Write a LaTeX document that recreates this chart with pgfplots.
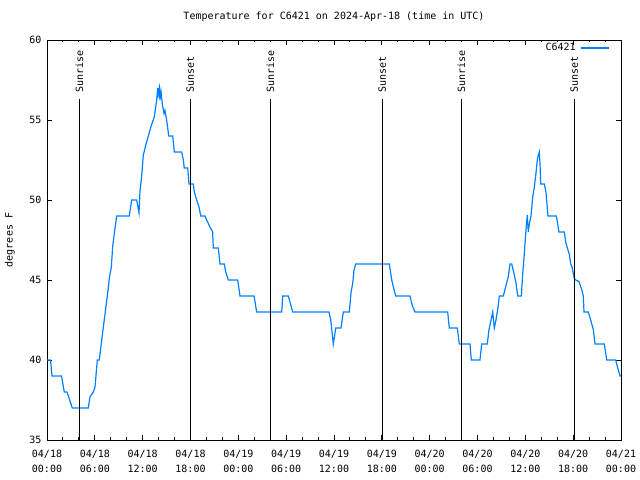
\documentclass[border=0pt]{standalone}
\usepackage{pgfplots}
\pgfplotsset{compat=1.18}
\usepackage{fontspec}
\setmainfont{DejaVu Sans Mono}
\definecolor{gpblue}{RGB}{0,128,255}
\begin{document}
\begin{tikzpicture}
\path[use as bounding box] (0,0) rectangle (640bp,480bp);
\begin{axis}[
  at={(47bp,40bp)}, anchor=south west,
  scale only axis, width=574bp, height=400bp,
  xmin=0, xmax=72, ymin=35, ymax=60,
  font=\fontsize{10bp}{15bp}\selectfont,
  /pgf/number format/assume math mode=true,
  axis line style={line width=0.9bp},
  xtick={0,6,...,72},
  xticklabels={{04/18\\00:00},{04/18\\06:00},{04/18\\12:00},{04/18\\18:00},{04/19\\00:00},{04/19\\06:00},{04/19\\12:00},{04/19\\18:00},{04/20\\00:00},{04/20\\06:00},{04/20\\12:00},{04/20\\18:00},{04/21\\00:00}},
  xticklabel style={align=center, yshift=-7bp},
  yticklabel style={xshift=-2bp},
  minor xtick={2,4,8,10,14,16,20,22,26,28,32,34,38,40,44,46,50,52,56,58,62,64,68,70},
  ytick={35,40,...,60},
  tick align=inside,
  major tick length=5bp, minor tick length=2.5bp,
  every tick/.style={black, line width=0.9bp},
  ylabel={degrees F},
  ylabel style={at={(axis description cs:-0.0645,0.5)}, anchor=center},
  title={Temperature for C6421 on 2024-Apr-18 (time in UTC)},
  title style={at={(rel axis cs:0.5,1)}, anchor=base, yshift=15bp},
  legend style={at={(rel axis cs:0.981,0.98)}, anchor=east, draw=none, fill=none, inner sep=0pt, legend plot pos=right, column sep=4bp, nodes={inner sep=1bp}},
  legend image code/.code={\draw[#1] (0bp,0bp) -- (28bp,0bp);},
]
\addplot[gpblue, line width=1.2bp] coordinates {
(0,40) (0.44,40) (0.63,39) (1.82,39) (2.17,38) (2.51,38) (3.17,37) (5.18,37)
(5.39,37.7) (5.81,38) (6.02,38.3) (6.31,40) (6.56,40) (6.99,41.75) (7.31,43)
(7.69,44.5) (7.81,45.1) (8.07,45.8) (8.24,47.1) (8.44,47.9) (8.74,49) (10.32,49)
(10.62,50) (11.25,50) (11.54,49.2) (11.67,50.6) (11.88,51.5) (12.08,52.8)
(12.42,53.5) (12.71,54) (13.05,54.6) (13.46,55.2) (13.76,56.25) (13.89,57)
(13.96,56.6) (14.09,57) (14.17,56.25) (14.30,56.8) (14.46,56) (14.68,55.4)
(14.80,55.6) (15.01,55) (15.27,54) (15.77,54) (15.97,53) (16.90,53) (17.10,52.5)
(17.22,52) (17.65,52) (17.81,51) (18.35,51) (18.48,50.5) (18.78,50) (19.10,49.5)
(19.28,49) (19.82,49) (20.03,48.75) (20.45,48.3) (20.78,48) (20.86,47) (21.49,47)
(21.70,46) (22.24,46) (22.42,45.5) (22.74,45) (23.92,45) (24.21,44) (25.97,44)
(26.30,43) (29.44,43) (29.57,44) (30.27,44) (30.82,43) (35.37,43) (35.59,42.5)
(35.79,41.6) (35.91,41) (36.04,41.4) (36.21,42) (36.88,42) (37.17,43) (37.92,43)
(38.13,44.2) (38.35,44.8) (38.51,45.6) (38.72,46) (42.94,46) (43.24,45)
(43.53,44.4) (43.74,44) (45.53,44) (45.82,43.4) (46.16,43) (50.26,43) (50.46,42)
(51.47,42) (51.72,41) (53.06,41) (53.22,40) (54.31,40) (54.53,41) (55.23,41)
(55.44,41.9) (55.66,42.4) (55.91,43) (56.11,42) (56.32,42.5) (56.57,43.3)
(56.74,44) (57.24,44) (57.54,44.6) (57.86,45.2) (58.08,46) (58.29,46) (58.58,45.4)
(58.83,44.8) (59.04,44) (59.50,44) (59.67,45.4) (59.83,46.35) (60.05,47.9)
(60.17,48.65) (60.25,49.06) (60.37,48) (60.50,48.5) (60.71,49) (60.93,50.2)
(61.13,50.8) (61.34,51.7) (61.50,52.5) (61.63,52.8) (61.75,53) (61.84,52.3)
(61.93,51) (62.38,51) (62.59,50.5) (62.84,49) (63.89,49) (64.06,48.5) (64.22,48)
(64.89,48) (65.10,47.3) (65.27,47) (65.52,46.6) (65.69,46) (65.86,45.8)
(66.14,45.1) (66.32,45) (66.73,44.9) (67.07,44.4) (67.27,44) (67.36,43) (67.90,43)
(68.20,42.5) (68.53,41.9) (68.74,41) (69.91,41) (70.21,40) (71.34,40) (71.59,39.5)
(71.88,39) (72,39)
};
\addlegendentry{C6421}
\addplot[black, line width=1.2bp, forget plot] coordinates {(4.05,35) (4.05,56.31)};
\addplot[black, line width=1.2bp, forget plot] coordinates {(17.98,35) (17.98,56.31)};
\addplot[black, line width=1.2bp, forget plot] coordinates {(28.01,35) (28.01,56.31)};
\addplot[black, line width=1.2bp, forget plot] coordinates {(42.06,35) (42.06,56.31)};
\addplot[black, line width=1.2bp, forget plot] coordinates {(51.97,35) (51.97,56.31)};
\addplot[black, line width=1.2bp, forget plot] coordinates {(66.14,35) (66.14,56.31)};
\node[rotate=90, anchor=west, inner sep=0pt] at (axis cs:4.05,56.69) {Sunrise};
\node[rotate=90, anchor=west, inner sep=0pt] at (axis cs:17.98,56.69) {Sunset};
\node[rotate=90, anchor=west, inner sep=0pt] at (axis cs:28.01,56.69) {Sunrise};
\node[rotate=90, anchor=west, inner sep=0pt] at (axis cs:42.06,56.69) {Sunset};
\node[rotate=90, anchor=west, inner sep=0pt] at (axis cs:51.97,56.69) {Sunrise};
\node[rotate=90, anchor=west, inner sep=0pt] at (axis cs:66.14,56.69) {Sunset};
\end{axis}
\end{tikzpicture}
\end{document}
